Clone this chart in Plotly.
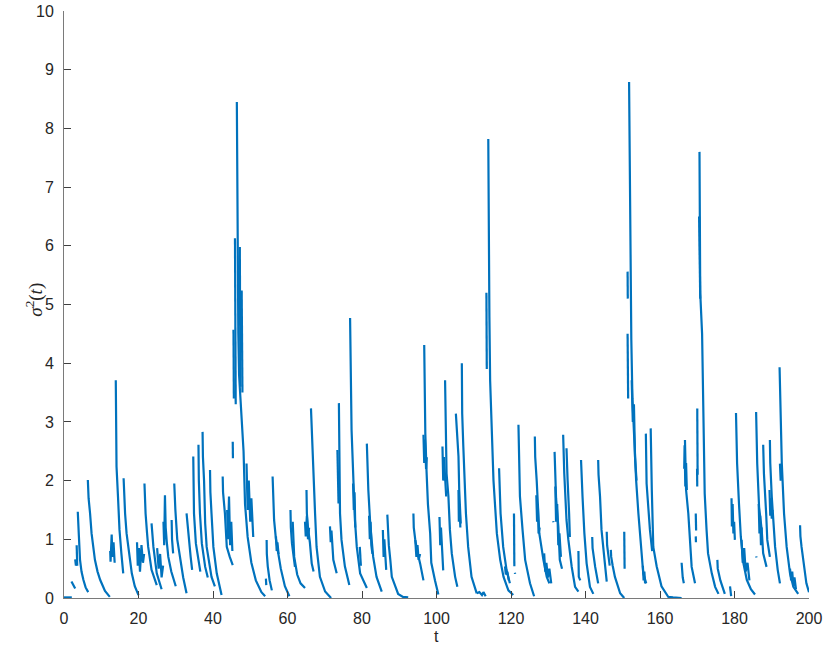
import plotly.graph_objects as go

# sigma^2(t), one list per 40-unit window.
# None separates the separate decay segments.
t_a = [0, 1.0, 2.1, None,
       2.0, 2.5, 3.0, None,
       3.0, 3.2, 3.35, None,
       3.4, 3.45, 3.55, None,
       3.7, 3.8, 4.0, 4.3, 4.7, 5.2, 5.8, 6.5, None,
       6.4, 6.6, 7.0, 7.4, 8.3, 9.0, 9.7, 11.0, 12.3, None,
       12.4, 12.5, 12.8, 13.0, 13.3, 13.6, None,
       13.9, 14.0, 14.1, 14.5, 14.9, 15.4, 15.9, None,
       16.0, 16.2, 16.4, 16.8, 17.3, 18.2, 19.0, 20.0, None,
       19.6, 19.8, 20.1, 20.4, 20.8, 21.2, 21.5, None,
       21.6, 21.7, 21.9, 22.3, 22.6, 23.5, 24.9, None,
       23.5, 23.7, 24.0, 24.9, 26.2, None,
       25.0, 25.4, 25.8, 26.2, 26.6, None,
       26.7, 26.9, 27.1, 27.3, 27.6, 28.0, 28.8, 30.0, None,
       28.9, 29.0, 29.3, None,
       29.6, 29.7, 29.9, 30.4, 31.1, 32.0, 32.9, None,
       32.9, 33.2, 33.6, 34.0, 34.4, None,
       34.7, 34.8, 34.9, 35.4, 36.1, 36.6, None,
       36.1, 36.2, 36.5, 37.0, 37.9, 38.6, None,
       37.2, 37.3, 37.6, 37.9, 38.3, 39.0, 39.6, 40.5, None,
       39.2, 39.3, 39.6, 40.1, 41.0, 42.3]
s_a = [0.01, 0.01, 0.01, None,
       0.28, 0.22, 0.16, None,
       0.66, 0.55, 0.62, None,
       0.9, 0.7, 0.55, None,
       1.47, 1.25, 1.05, 0.65, 0.45, 0.31, 0.18, 0.1, None,
       2.01, 1.7, 1.44, 1.1, 0.65, 0.45, 0.31, 0.12, 0.02, None,
       0.8, 0.62, 1.08, 0.7, 0.95, 0.6, None,
       3.71, 2.9, 2.24, 1.72, 1.16, 0.76, 0.42, None,
       2.04, 1.7, 1.44, 1.1, 0.87, 0.42, 0.2, 0.05, None,
       0.95, 0.55, 0.85, 0.45, 0.9, 0.6, 0.75, None,
       1.95, 1.7, 1.44, 1.1, 0.87, 0.48, 0.22, None,
       1.27, 1.05, 0.87, 0.42, 0.15, None,
       0.85, 0.5, 0.75, 0.35, 0.55, None,
       1.3, 0.9, 1.75, 1.2, 0.95, 0.7, 0.45, 0.2, None,
       1.33, 1.0, 0.76, None,
       1.95, 1.75, 1.5, 1.0, 0.69, 0.35, 0.08, None,
       1.44, 1.2, 0.99, 0.7, 0.48, None,
       2.41, 1.9, 1.44, 0.93, 0.65, 0.45, None,
       2.61, 2.0, 1.44, 0.93, 0.53, 0.35, None,
       2.83, 2.4, 2.0, 1.27, 0.87, 0.55, 0.36, 0.2, None,
       2.18, 1.8, 1.44, 0.87, 0.42, 0.05]

t_b = [42.6, 42.7, 43.2, 43.7, 44.5, 45.3, None,
       43.8, 44.0, 44.3, 44.6, 44.9, 45.2, None,
       45.3, 45.35, None,
       45.5, 45.55, 45.6, None,
       45.9, 45.95, 46.0, 46.1, None,
       46.4, 46.5, 46.6, 46.8, 47.0, 47.3, 47.8, 48.2, 48.6, 49.3, 50.3, 51.5, 53.0, 54.0, None,
       47.2, 47.25, 47.35, None,
       47.7, 47.75, 47.9, None,
       49.0, 49.3, 49.6, 50.0, 50.3, 50.8, None,
       54.2, 54.3, None,
       54.4, 54.45, 54.7, 55.2, 55.8, None,
       56.0, 56.1, 56.4, 56.9, 57.6, 58.2, 59.3, 60.5, None,
       56.9, 57.1, 57.3, 57.6, None,
       60.8, 60.9, 61.2, 61.6, 62.0, None,
       61.4, 61.5, 61.8, 62.6, 63.5, 64.7, None,
       64.7, 64.9, 65.2, 65.5, 65.8, None,
       65.1, 65.2, 65.5, 66.0, 66.5, 67.0, None,
       66.3, 66.7, 66.9, 67.4, 67.8, 68.7, 70.1, 71.7, None,
       71.4, 71.6, 71.8, 72.0, 72.3, 73.2, None,
       73.4, 73.5, 73.6, 73.7, None,
       73.8, 73.9, 74.0, 74.1, 74.5, 75.4, 76.6, None,
       76.8, 76.9, 77.0, 77.2, 77.7, 78.1, 78.6, 79.5, 81.3, None,
       77.6, 77.8, 78.0, 78.2, None,
       79.4, 79.5, 79.7]
s_b = [2.07, 1.8, 1.44, 0.87, 0.7, 0.56, None,
       1.5, 1.0, 1.73, 0.9, 1.3, 0.8, None,
       2.66, 2.38, None,
       4.57, 4.0, 3.4, None,
       6.13, 5.0, 4.0, 3.3, None,
       8.45, 7.2, 6.5, 4.5, 3.8, 3.5, 3.1, 2.5, 1.6, 1.04, 0.6, 0.3, 0.1, 0.03, None,
       5.98, 4.5, 3.6, None,
       5.24, 4.4, 3.5, None,
       2.29, 1.5, 2.0, 1.3, 1.7, 1.04, None,
       0.33, 0.22, None,
       0.99, 0.75, 0.54, 0.3, 0.13, None,
       2.07, 1.7, 1.33, 1.0, 0.7, 0.5, 0.2, 0.03, None,
       1.05, 0.8, 0.95, 0.75, None,
       1.5, 1.2, 0.93, 0.7, 0.53, None,
       1.3, 1.0, 0.7, 0.4, 0.25, 0.17, None,
       1.3, 1.05, 1.4, 1.0, 1.2, None,
       1.84, 1.44, 1.2, 0.95, 0.59, 0.45, None,
       3.23, 2.58, 2.0, 1.44, 0.87, 0.36, 0.11, 0.0, None,
       1.22, 0.95, 1.15, 0.93, 0.65, 0.42, None,
       2.52, 1.8, 2.3, 1.61, None,
       3.32, 2.6, 2.0, 1.44, 0.99, 0.54, 0.22, None,
       4.77, 4.0, 3.5, 2.86, 2.0, 1.33, 0.87, 0.42, 0.17, None,
       1.95, 1.5, 1.8, 1.2, None,
       0.87, 0.7, 0.55]

t_c = [81.3, 81.5, 81.7, 82.2, 83.0, 83.9, 85.3, None,
       81.9, 82.1, 82.3, 82.5, 82.8, None,
       85.6, 85.8, 86.0, 86.3, 86.5, None,
       86.8, 86.9, 87.2, 87.6, 88.0, 89.7, 91.0, 92.4, None,
       93.8, 93.9, 94.3, 94.8, 95.6, 96.5, None,
       94.3, 94.6, 94.9, 95.2, 95.6, None,
       96.7, 96.75, 96.8, 97.0, 97.3, 97.7, 98.3, 98.6, 99.6, 100.5, None,
       96.5, 96.7, 96.9, 97.2, 97.4, None,
       100.8, 101.0, 101.2, 101.5, 101.8, None,
       101.6, 101.8, 102.0, 102.3, 102.6, None,
       102.3, 102.6, 102.7, 103.2, 103.6, 104.1, 105.0, 105.6, None,
       105.2, 105.5, 105.9, 106.1, 106.5, None,
       105.9, 106.0, 106.2, 106.4, None,
       106.8, 106.9, 107.2, 107.5, 107.9, 108.5, 109.4, 110.8, None,
       110.8, 111.5, 112.2, 112.6, 113.2, None,
       113.9, 114.0, 114.2, 114.4, 114.8, 115.3, 115.8, 116.2, 117.1, 118.0, 119.3, 120.6, None,
       113.4, 113.45, 113.5, None,
       116.8, 116.9, 117.2, 117.9, 118.8, 119.7, None,
       118.4, 118.6, 119.0, 119.4]
s_c = [2.63, 2.1, 1.84, 1.27, 0.7, 0.36, 0.11, None,
       1.4, 1.0, 1.3, 0.9, 0.75, None,
       1.16, 0.7, 1.0, 0.55, 0.48, None,
       1.42, 1.2, 0.9, 0.65, 0.36, 0.07, 0.02, 0.01, None,
       1.44, 1.2, 0.99, 0.8, 0.59, 0.3, None,
       0.99, 0.7, 0.9, 0.65, 0.75, None,
       4.31, 3.9, 3.5, 2.8, 2.2, 1.6, 1.1, 0.6, 0.3, 0.06, None,
       2.78, 2.3, 2.7, 2.2, 2.4, None,
       1.38, 0.9, 1.2, 0.7, 0.47, None,
       2.58, 2.0, 2.4, 1.9, 1.73, None,
       3.71, 2.86, 2.12, 1.73, 1.16, 0.76, 0.36, 0.19, None,
       3.14, 2.8, 2.41, 1.84, 1.27, None,
       1.84, 1.3, 1.6, 1.2, None,
       4.0, 3.14, 2.58, 2.0, 1.44, 0.87, 0.36, 0.08, None,
       0.08, 0.1, 0.05, 0.1, 0.03, None,
       7.82, 6.0, 4.8, 3.7, 2.8, 2.0, 1.5, 1.1, 0.65, 0.36, 0.13, 0.05, None,
       5.2, 4.5, 3.9, None,
       2.21, 1.9, 1.44, 0.87, 0.48, 0.25, None,
       0.54, 0.4, 0.45, 0.3]

t_d = [120.8, 120.85, 120.9, None,
       121.05, 121.1, None,
       122.0, 122.2, 122.4, 123.1, 123.8, 125.1, 126.2, None,
       126.4, 126.5, 126.9, 127.3, 127.6, 128.7, 129.6, 130.3, None,
       126.8, 127.0, 127.2, 127.4, 127.7, None,
       128.9, 129.2, 129.5, 129.9, 130.3, 130.8, None,
       131.35, 131.4, None,
       131.7, 131.8, 132.1, 132.7, 133.1, 133.7, None,
       131.9, 132.1, 132.4, 132.7, 133.0, 133.4, None,
       134.0, 134.1, 134.3, 134.9, 135.4, 136.3, 137.2, 138.1, None,
       134.9, 135.0, 135.2, 135.6, 135.8, None,
       138.1, 138.15, 138.2, 138.6, None,
       138.8, 138.9, 139.2, 139.7, 140.3, 141.2, 142.1, None,
       141.8, 141.9, 142.6, 143.4, None,
       143.4, 143.5, 143.9, 144.3, 145.2, 145.7, None,
       145.7, 145.8, 146.2, 146.5, None,
       146.8, 146.9, 147.3, 147.9, 149.3, 150.4, None,
       150.4, 150.45, 150.5, None,
       151.7, 151.8, 151.9, 152.0, 152.3, 152.6, 153.0, 153.6, 154.2, 154.9, 155.5, 156.3, None,
       151.3, 151.35, None,
       151.3, 151.35, 151.45, None,
       152.4, 152.7, 153.0, 153.3, 153.7, None,
       155.4, 155.6, 155.8, 156.0, None,
       156.2, 156.3, 156.4, 157.3, 157.9, None,
       157.5, 157.6, 157.8, 158.2, 159.1, 160.4, 162.2, 163.5, 165.8]
s_d = [1.44, 1.0, 0.54, None,
       0.43, 0.41, None,
       2.95, 2.29, 1.73, 1.16, 0.65, 0.25, 0.03, None,
       2.75, 2.4, 2.0, 1.44, 1.1, 0.65, 0.36, 0.25, None,
       1.75, 1.3, 1.6, 1.1, 1.2, None,
       0.76, 0.45, 0.6, 0.35, 0.5, 0.25, None,
       1.31, 1.29, None,
       2.49, 2.1, 1.7, 1.22, 0.65, 0.5, None,
       1.9, 1.3, 1.6, 0.9, 1.1, 0.7, None,
       2.78, 2.5, 2.12, 1.33, 0.99, 0.53, 0.19, 0.11, None,
       2.55, 2.3, 2.0, 1.44, 1.04, None,
       0.8, 0.6, 0.36, 0.3, None,
       2.35, 2.1, 1.73, 1.1, 0.59, 0.19, 0.07, None,
       1.04, 0.85, 0.53, 0.25, None,
       2.35, 2.1, 1.73, 1.16, 0.59, 0.28, None,
       1.13, 0.9, 0.7, 0.55, None,
       0.82, 0.7, 0.55, 0.36, 0.08, 0.0, None,
       1.13, 0.8, 0.5, None,
       8.79, 7.8, 7.0, 5.5, 4.4, 3.4, 2.8, 2.0, 1.44, 0.87, 0.42, 0.25, None,
       5.56, 5.1, None,
       4.5, 4.0, 3.4, None,
       3.71, 3.0, 3.3, 2.4, 2.0, None,
       0.55, 0.3, 0.45, 0.25, None,
       2.8, 2.4, 1.95, 1.16, 0.8, None,
       2.89, 2.4, 1.84, 0.87, 0.54, 0.2, 0.02, 0.01, 0.0]

t_e = [165.8, 165.9, 166.1, 166.4, None,
       166.7, 166.8, 167.0, 167.6, 168.1, 168.5, 169.4, None,
       166.5, 166.6, 166.8, 167.0, 167.2, None,
       169.6, 169.65, 169.7, None,
       169.6, 169.65, None,
       170.0, 170.05, 170.1, None,
       169.95, 170.0, None,
       170.6, 170.7, 170.8, 171.3, 171.5, 171.8, 172.0, 172.5, 172.9, 173.9, 174.8, 175.7, None,
       170.5, 170.6, 170.7, 170.8, None,
       175.4, 175.5, 176.2, 177.4, None,
       178.8, 178.9, 179.1, None,
       179.2, 179.3, 179.5, 179.7, 179.9, 180.1, None,
       180.4, 180.5, 180.7, 181.2, 181.7, 182.4, 183.3, 184.4, 185.5, None,
       181.9, 182.2, 182.6, 183.0, 183.5, 184.0, None,
       185.8, 185.9, 186.1, 186.6, 187.3, 187.7, 188.6, None,
       186.5, 186.7, 186.9, 187.1, 187.3, None,
       185.85, 185.9, None,
       187.7, 187.8, 187.9, 188.5, 188.8, 189.5, None,
       189.5, 189.6, 190.0, 190.4, 190.9, 191.6, 192.2, None,
       189.4, 189.6, 189.8, 190.0, 190.2, None,
       192.1, 192.2, 192.4, 192.7, 193.3, 194.0, 194.9, 195.8, 197.1, None,
       192.2, 192.4, 192.6, None,
       194.9, 195.2, 195.5, 195.8, 196.1, 196.5, None,
       197.6, 197.7, 198.0, 198.7, 199.3, 200.0]
s_e = [0.6, 0.5, 0.35, 0.25, None,
       2.69, 2.3, 1.84, 1.44, 0.87, 0.53, 0.25, None,
       2.2, 2.6, 1.9, 2.3, 1.84, None,
       1.44, 1.3, 1.15, None,
       1.05, 0.95, None,
       3.23, 2.7, 2.1, None,
       2.2, 1.9, None,
       7.6, 6.5, 5.2, 4.5, 3.7, 2.86, 1.78, 1.16, 0.76, 0.42, 0.19, 0.07, None,
       6.5, 5.5, 6.0, 5.1, None,
       0.65, 0.5, 0.3, 0.07, None,
       0.2, 0.1, 0.03, None,
       1.7, 1.22, 1.6, 1.1, 1.3, 0.99, None,
       3.15, 2.7, 2.29, 1.61, 1.04, 0.59, 0.31, 0.15, 0.06, None,
       0.99, 0.6, 0.85, 0.45, 0.6, 0.3, None,
       3.17, 2.8, 2.29, 1.55, 1.16, 0.76, 0.53, None,
       1.6, 1.1, 1.4, 0.9, 1.2, None,
       0.71, 0.69, None,
       2.61, 2.4, 2.12, 1.44, 0.99, 0.7, None,
       2.69, 2.3, 1.73, 1.33, 0.87, 0.48, 0.25, None,
       1.84, 1.4, 1.7, 1.35, 1.5, None,
       3.93, 3.6, 3.14, 2.29, 1.44, 0.87, 0.42, 0.19, 0.07, None,
       2.29, 2.0, 2.2, None,
       0.5, 0.3, 0.45, 0.2, 0.35, 0.15, None,
       1.24, 1.05, 0.87, 0.48, 0.25, 0.1]

x_ticks = [0, 20, 40, 60, 80, 100, 120, 140, 160, 180, 200]
y_ticks = [0, 1, 2, 3, 4, 5, 6, 7, 8, 9, 10]

t_all = t_a + [None] + t_b + [None] + t_c + [None] + t_d + [None] + t_e
s_all = s_a + [None] + s_b + [None] + s_c + [None] + s_d + [None] + s_e

fig = go.Figure()
fig.add_trace(go.Scatter(
    x=t_all, y=s_all, mode="lines",
    line=dict(color="#0072BD", width=2.2),
    connectgaps=False, showlegend=False, hoverinfo="skip"))

axis_style = dict(
    showgrid=False, zeroline=False, showline=True,
    linecolor="#7a7a7a", linewidth=1,
    ticks="inside", ticklen=7, tickcolor="#404040", tickwidth=1,
    tickfont=dict(family="Liberation Sans, Arial, sans-serif", size=16, color="#262626"),
    mirror=False, automargin=False,
)

fig.update_xaxes(range=[0, 200], tickvals=x_ticks, ticklabelstandoff=6, **axis_style)
fig.update_yaxes(range=[0, 10], tickvals=y_ticks, ticklabelstandoff=6, **axis_style)

# axis titles placed as annotations to match the MATLAB positions
fig.add_annotation(text="t", xref="paper", yref="paper", x=0.5, y=-0.065,
                   xanchor="center", yanchor="middle", showarrow=False,
                   font=dict(family="Liberation Sans, Arial, sans-serif", size=16, color="#262626"))
fig.add_annotation(text="<i>σ</i><sup>2</sup>(<i>t</i>)", xref="paper", yref="paper",
                   x=-0.039, y=0.508, textangle=-90,
                   xanchor="center", yanchor="middle", showarrow=False,
                   font=dict(family="Liberation Serif, DejaVu Serif, serif", size=19, color="#262626"))

fig.update_layout(
    width=831, height=652,
    margin=dict(l=64, r=22, t=11, b=54),
    plot_bgcolor="white", paper_bgcolor="white",
)

# drop the default body margin so the figure sits at the page origin
fig.write_html("out.html", config={"displayModeBar": False},
               post_script="document.body.style.margin='0';")
